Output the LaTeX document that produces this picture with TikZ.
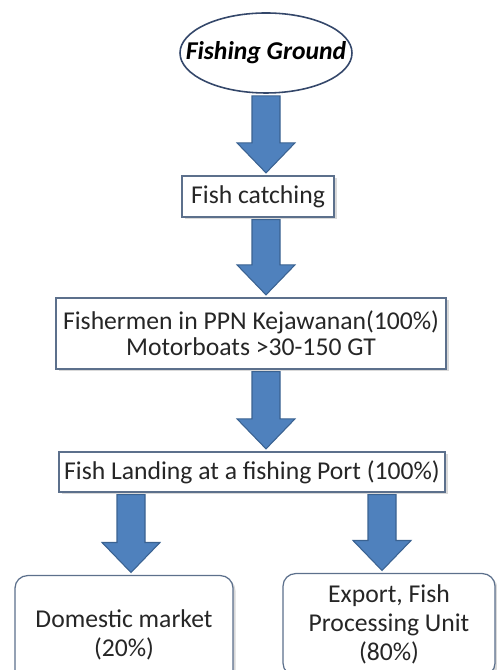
\documentclass[tikz,border=0pt]{standalone}
\usepackage{fontspec}
\setmainfont{Carlito}
\usepackage{tikz}
\usetikzlibrary{calc,shapes.geometric,shadows}
\definecolor{arrowblue}{HTML}{4F81BD}
\definecolor{arrowedge}{HTML}{3A6291}
\definecolor{boxedge}{HTML}{5C708C}
\definecolor{ovaledge}{HTML}{34476A}
\definecolor{textgray}{HTML}{262626}
% fat block arrow, x taken from the start point
\newcommand{\blockarrow}[2]{%
	\draw[fatarrow] let \p1=(#1), \p2=(#2) in
		(\x1-0.28cm,\y1-0.04cm) -- (\x1+0.28cm,\y1-0.04cm) -- (\x1+0.28cm,\y2+0.65cm)
		-- (\x1+0.58cm,\y2+0.65cm) -- (\x1,\y2+0.05cm) -- (\x1-0.58cm,\y2+0.65cm)
		-- (\x1-0.28cm,\y2+0.65cm) -- cycle;}

\begin{document}
\begin{tikzpicture}[
	every node/.style={font=\fontsize{14.6}{16.5}\selectfont, text=textgray},
	flowbox/.style={draw=boxedge, line width=0.7pt, fill=white, align=center, inner sep=0pt,
		drop shadow={shadow xshift=0.05cm, shadow yshift=-0.05cm, opacity=0.3}},
	roundbox/.style={flowbox, rounded corners=0.25cm},
	oval/.style={ellipse, draw=ovaledge, line width=0.9pt, fill=white, inner xsep=-0.45cm, inner ysep=0pt,
		minimum width=3.44cm, minimum height=1.6cm, font=\fontsize{14.6}{16.5}\selectfont\bfseries\itshape, text=black},
	fatarrow/.style={draw=arrowedge, line width=0.6pt, fill=arrowblue, line join=miter}
	]
	% \draw[help lines] (0,0) grid (10,14);
	\clip (0,0) rectangle (9.94,13.4);

	% boxes
	\node[oval] (ground) at (5.32,12.34) {Fishing Ground};
	\node[flowbox, minimum width=3.04cm, minimum height=0.82cm] (catch) at (5.16,9.47) {Fish catching};
	\node[flowbox, minimum width=7.8cm, minimum height=1.42cm, font=\fontsize{14.6}{15}\selectfont] (fishers) at (5.02,6.73)
		{Fishermen in PPN Kejawanan(100\%)\\Motorboats >30-150 GT};
	\node[flowbox, minimum width=7.72cm, minimum height=0.8cm] (landing) at (5.04,3.96)
		{Fish Landing at a fishing Port (100\%)};

	% outputs
	\node[roundbox, minimum width=4.36cm, minimum height=2.36cm, anchor=north] (domestic) at (2.48,1.9)
		{Domestic market\\(20\%)};
	\node[roundbox, minimum width=4.24cm, minimum height=2.04cm, anchor=north] (export) at (7.78,1.94)
		{Export, Fish\\Processing Unit\\(80\%)};
	\coordinate (domtip) at ($(domestic.north)+(0.14,0)$);
	\coordinate (exptip) at ($(export.north)+(-0.14,0)$);

	% arrows
	\blockarrow{ground.south}{catch.north -| ground.south}
	\blockarrow{catch.south -| ground.south}{fishers.north -| ground.south}
	\blockarrow{fishers.south -| ground.south}{landing.north -| ground.south}
	\blockarrow{landing.south -| domtip}{domtip}
	\blockarrow{landing.south -| exptip}{exptip}
\end{tikzpicture}
\end{document}
